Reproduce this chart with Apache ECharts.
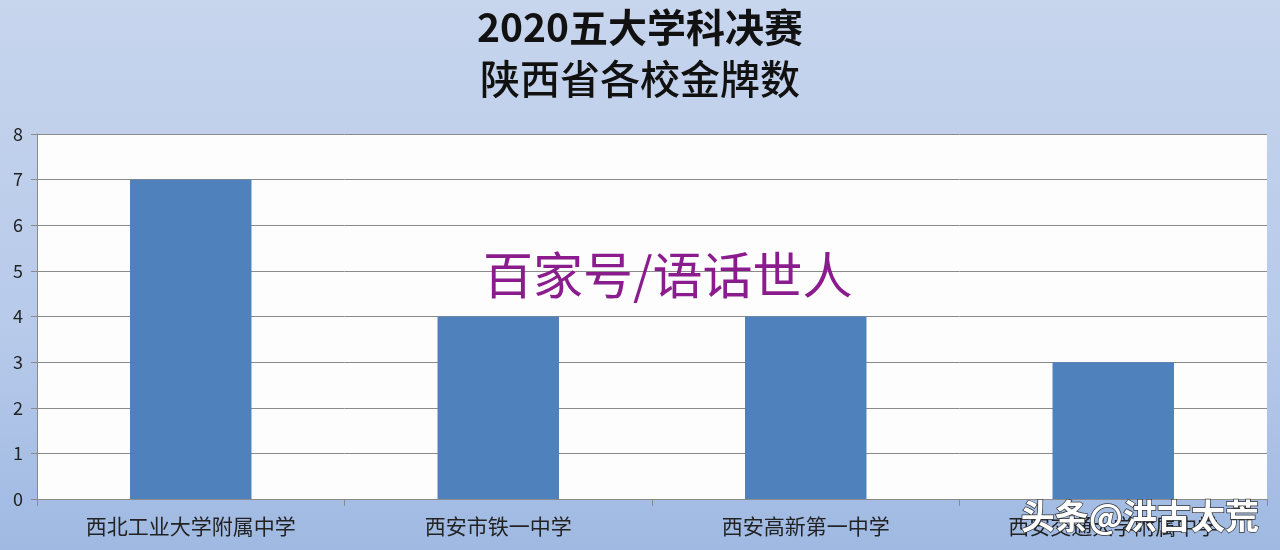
<!DOCTYPE html>
<html><head><meta charset="utf-8">
<script src="https://cdn.jsdelivr.net/npm/echarts@6/dist/echarts.min.js"></script>
<style>html,body{margin:0;padding:0;}#c{width:1280px;height:550px;}</style>
</head><body><div id="c"></div>
<script>
const titleLine1 = '2020五大学科决赛';
const titleLine2 = '陕西省各校金牌数';
const categories = ['西北工业大学附属中学', '西安市铁一中学', '西安高新第一中学', '西安交通大学附属中学'];
const goldMedals = [7, 4, 4, 3];
const watermark1 = '百家号/语话世人';
const watermark2 = '头条@洪古太荒';

const font = '"Noto Sans CJK SC", "Noto Sans", sans-serif';
const chart = echarts.init(document.getElementById('c'));
chart.setOption({
  animation: false,
  backgroundColor: {
    type: 'linear', x: 0, y: 0, x2: 0, y2: 1,
    colorStops: [{offset: 0, color: '#c7d5ed'}, {offset: 0.6, color: '#b7caea'}, {offset: 1, color: '#9fb9e2'}]
  },
  title: {
    left: 'center', top: -3,
    text: '{a|' + titleLine1 + '}\n{b|' + titleLine2 + '}',
    textStyle: {
      fontFamily: font, fontSize: 38, color: '#111', lineHeight: 51,
      rich: {
        a: {fontFamily: font, fontSize: 39, fontWeight: 'bold', color: '#111', lineHeight: 51},
        b: {fontFamily: font, fontSize: 40, fontWeight: 500, color: '#111', lineHeight: 51}
      }
    }
  },
  grid: {
    left: 37, right: 13, top: 134, bottom: 51,
    show: true, backgroundColor: '#fdfdfe', borderWidth: 0
  },
  xAxis: {
    type: 'category', data: categories,
    axisLine: {lineStyle: {color: '#8a8a8a', width: 1}},
    axisTick: {show: true, length: 7, lineStyle: {color: '#8a8a8a'}},
    axisLabel: {fontFamily: font, fontSize: 21, color: '#222', margin: 17}
  },
  yAxis: {
    type: 'value', min: 0, max: 8, interval: 1,
    axisLine: {show: true, lineStyle: {color: '#8a8a8a'}},
    axisTick: {show: true, length: 6, lineStyle: {color: '#8a8a8a'}},
    axisLabel: {fontFamily: font, fontSize: 18, color: '#222', margin: 14},
    splitLine: {lineStyle: {color: '#8a8a8a', width: 1}}
  },
  series: [{
    type: 'bar', data: goldMedals, barWidth: '39.5%',
    itemStyle: {color: '#4f81bd'}
  }],
  graphic: [
    {type: 'text', left: 483, top: 250, z: 100,
     style: {text: watermark1, font: '50px ' + font, fill: '#8b1c8e'}},
    {type: 'text', left: 1020, top: 498, z: 100,
     style: {text: watermark2, font: 'bold 34px ' + font, fill: '#ffffff', stroke: '#333', lineWidth: 1.5}}
  ]
});
</script>
</body></html>
